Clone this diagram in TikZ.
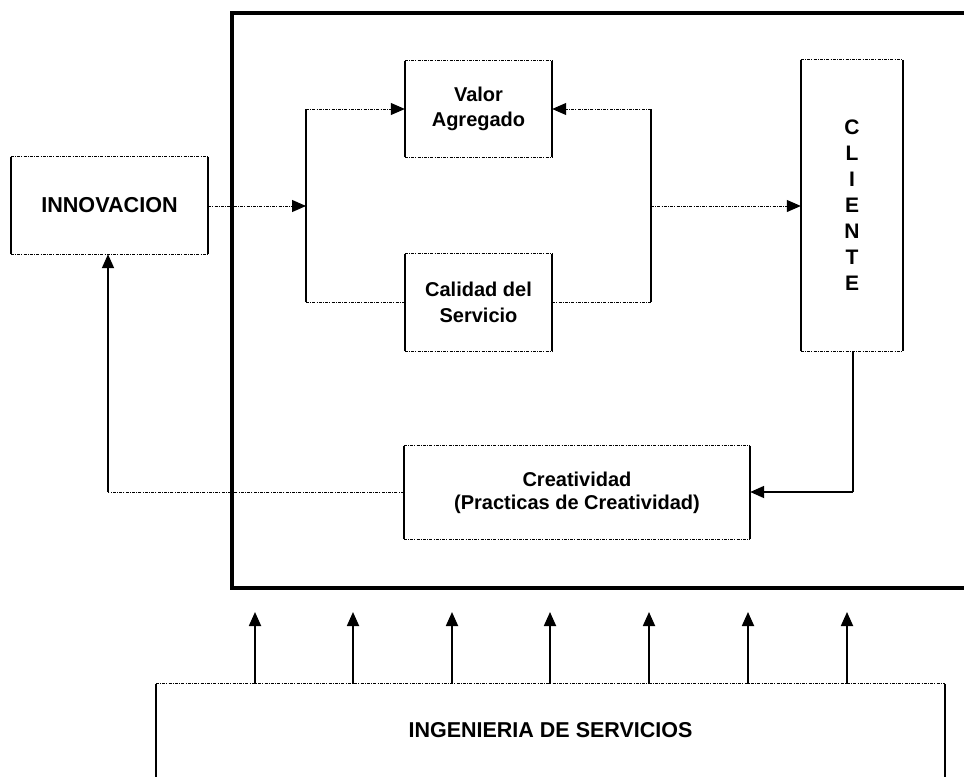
\documentclass[tikz,border=0pt]{standalone}
\usepackage{fontspec}
\setmainfont{Liberation Sans}
\usetikzlibrary{arrows.meta,calc}
\begin{document}
\begin{tikzpicture}[x=1bp,y=-1bp,
  boxnode/.style={inner sep=0pt,minimum width=#1,font=\bfseries,align=center},
  vside/.style={line width=1.6bp},
  hside/.style={line width=1bp,dash pattern=on 3bp off 1.2bp on 1bp off 1.2bp},
  solidline/.style={line width=1.8bp},
  dotline/.style={line width=1bp,dash pattern=on 3bp off 1.2bp on 1bp off 1.2bp},
  tip/.style={-{Triangle[length=14bp,width=12bp]}},
  frame/.style={line width=3.6bp}]
\useasboundingbox (0,0) rectangle (964,777);
% frame
\draw[frame] (970,13) -- (232,13) -- (232,588) -- (970,588);
% nodes
\node[boxnode=197bp,minimum height=97bp,font=\bfseries\fontsize{21.6bp}{25bp}\selectfont] (inn) at (109.5,205.5) {INNOVACION};
\node[boxnode=147bp,minimum height=96bp,font=\bfseries\fontsize{20bp}{25bp}\selectfont] (val) at (478.5,109) {Valor\\Agregado};
\node[boxnode=147bp,minimum height=97bp,font=\bfseries\fontsize{20bp}{26bp}\selectfont] (cal) at (478.5,302.5) {Calidad del\\Servicio};
\node[boxnode=102bp,minimum height=291bp,font=\bfseries\fontsize{21bp}{26bp}\selectfont] (cli) at (852,205.5) {C\\L\\I\\E\\N\\T\\E};
\node[boxnode=346bp,minimum height=93bp,font=\bfseries\fontsize{20bp}{23bp}\selectfont] (cre) at (577,492.5) {Creatividad\\(Practicas de Creatividad)};
\node[boxnode=789bp,minimum height=92bp,font=\bfseries\fontsize{21.5bp}{25bp}\selectfont] (ing) at (550.5,730) {INGENIERIA DE SERVICIOS};
% box sides
\foreach \n in {inn,val,cal,cli,cre}{
  \draw[vside] (\n.north west) -- (\n.south west);
  \draw[vside] (\n.north east) -- (\n.south east);
  \draw[hside] (\n.north west) -- (\n.north east);
  \draw[hside] (\n.south west) -- (\n.south east);
}
\draw[hside] (ing.north west) -- (ing.north east);
\draw[vside] (ing.north west) -- ($(ing.south west)+(0,10)$);
\draw[vside] (ing.north east) -- ($(ing.south east)+(0,10)$);
% junction coordinates
\coordinate (ltop) at (306,109);
\coordinate (lmid) at (306,206);
\coordinate (lbot) at (306,302);
\coordinate (rtop) at (651,109);
\coordinate (rmid) at (651,206);
\coordinate (rbot) at (651,302);
\coordinate (cdown) at (853,492);
\coordinate (cback) at (108,492);
% connectors
\draw[dotline,tip] (inn.east |- lmid) -- (lmid);
\draw[solidline] (ltop) -- (lbot);
\draw[dotline,tip] (ltop) -- (val.west |- ltop);
\draw[dotline] (lbot) -- (cal.west |- lbot);
\draw[solidline] (rtop) -- (rbot);
\draw[dotline,tip] (rtop) -- (val.east |- rtop);
\draw[dotline] (cal.east |- rbot) -- (rbot);
\draw[dotline,tip] (rmid) -- (cli.west |- rmid);
\draw[solidline] (cli.south -| cdown) -- (cdown);
\draw[solidline,tip] (cdown) -- (cre.east |- cdown);
\draw[dotline] (cre.west |- cback) -- (cback);
\draw[solidline,tip] (cback) -- (cback |- inn.south);
% arrows from INGENIERIA
\foreach \x in {255,353,452,550,649,748,847}{
  \coordinate (up\x) at (\x,612);
  \draw[solidline,tip] (up\x |- ing.north) -- (up\x);
}
\end{tikzpicture}
\end{document}
